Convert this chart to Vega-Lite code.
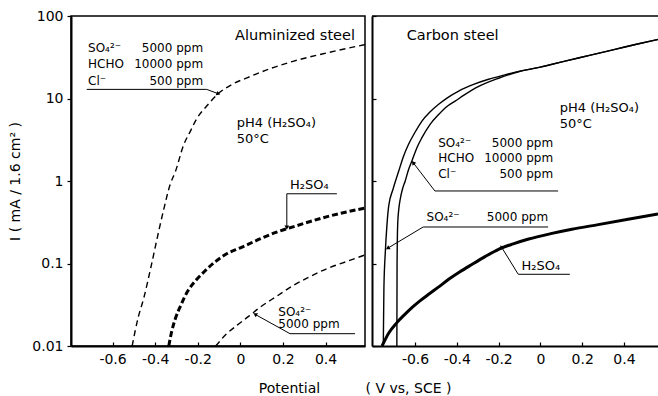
{
  "$schema": "https://vega.github.io/schema/vega-lite/v6.json",
  "padding": {"left": 8, "top": 8, "right": 0, "bottom": 0},
  "spacing": 7,
  "bounds": "flush",
  "datasets": {
    "curves": [
      {"p":"L","s":"A","x":-0.508,"y":0.01},{"p":"L","s":"A","x":-0.48,"y":0.022},{"p":"L","s":"A","x":-0.454,"y":0.0376},{"p":"L","s":"A","x":-0.42,"y":0.09},{"p":"L","s":"A","x":-0.391,"y":0.2},{"p":"L","s":"A","x":-0.36,"y":0.45},{"p":"L","s":"A","x":-0.33,"y":0.9},{"p":"L","s":"A","x":-0.305,"y":1.3},{"p":"L","s":"A","x":-0.266,"y":2.75},{"p":"L","s":"A","x":-0.235,"y":4.0},{"p":"L","s":"A","x":-0.203,"y":5.8},{"p":"L","s":"A","x":-0.16,"y":8.0},{"p":"L","s":"A","x":-0.108,"y":11.2},{"p":"L","s":"A","x":-0.04,"y":14.8},{"p":"L","s":"A","x":0.031,"y":17.8},{"p":"L","s":"A","x":0.14,"y":23},{"p":"L","s":"A","x":0.251,"y":28.4},{"p":"L","s":"A","x":0.408,"y":35.8},{"p":"L","s":"A","x":0.585,"y":45},
      {"p":"L","s":"B","x":-0.336,"y":0.01},{"p":"L","s":"B","x":-0.325,"y":0.014},{"p":"L","s":"B","x":-0.305,"y":0.0215},{"p":"L","s":"B","x":-0.28,"y":0.031},{"p":"L","s":"B","x":-0.249,"y":0.0454},{"p":"L","s":"B","x":-0.21,"y":0.062},{"p":"L","s":"B","x":-0.171,"y":0.079},{"p":"L","s":"B","x":-0.12,"y":0.104},{"p":"L","s":"B","x":-0.062,"y":0.132},{"p":"L","s":"B","x":0.0,"y":0.155},{"p":"L","s":"B","x":0.095,"y":0.2},{"p":"L","s":"B","x":0.17,"y":0.24},{"p":"L","s":"B","x":0.251,"y":0.28},{"p":"L","s":"B","x":0.408,"y":0.37},{"p":"L","s":"B","x":0.585,"y":0.47},
      {"p":"L","s":"C","x":-0.116,"y":0.01},{"p":"L","s":"C","x":-0.065,"y":0.014},{"p":"L","s":"C","x":-0.015,"y":0.0179},{"p":"L","s":"C","x":0.04,"y":0.023},{"p":"L","s":"C","x":0.095,"y":0.0298},{"p":"L","s":"C","x":0.17,"y":0.04},{"p":"L","s":"C","x":0.251,"y":0.0547},{"p":"L","s":"C","x":0.33,"y":0.07},{"p":"L","s":"C","x":0.408,"y":0.087},{"p":"L","s":"C","x":0.5,"y":0.106},{"p":"L","s":"C","x":0.585,"y":0.127},
      {"p":"R","s":"S","x":-0.752,"y":0.01},{"p":"R","s":"S","x":-0.749,"y":0.05},{"p":"R","s":"S","x":-0.742,"y":0.142},{"p":"R","s":"S","x":-0.735,"y":0.28},{"p":"R","s":"S","x":-0.726,"y":0.5},{"p":"R","s":"S","x":-0.705,"y":0.8},{"p":"R","s":"S","x":-0.678,"y":1.32},{"p":"R","s":"S","x":-0.655,"y":2.0},{"p":"R","s":"S","x":-0.631,"y":2.79},{"p":"R","s":"S","x":-0.6,"y":3.9},{"p":"R","s":"S","x":-0.567,"y":5.33},{"p":"R","s":"S","x":-0.53,"y":6.8},{"p":"R","s":"S","x":-0.487,"y":8.5},{"p":"R","s":"S","x":-0.44,"y":10.4},{"p":"R","s":"S","x":-0.391,"y":12.3},{"p":"R","s":"S","x":-0.32,"y":14.8},{"p":"R","s":"S","x":-0.248,"y":17.1},{"p":"R","s":"S","x":-0.17,"y":19.3},{"p":"R","s":"S","x":-0.104,"y":21.3},{"p":"R","s":"S","x":0.0,"y":24},{"p":"R","s":"S","x":0.118,"y":28.4},{"p":"R","s":"S","x":0.24,"y":33.5},{"p":"R","s":"S","x":0.357,"y":39.4},{"p":"R","s":"S","x":0.46,"y":45.5},{"p":"R","s":"S","x":0.563,"y":52},
      {"p":"R","s":"M","x":-0.687,"y":0.01},{"p":"R","s":"M","x":-0.686,"y":0.1},{"p":"R","s":"M","x":-0.683,"y":0.3},{"p":"R","s":"M","x":-0.678,"y":0.45},{"p":"R","s":"M","x":-0.671,"y":0.6},{"p":"R","s":"M","x":-0.66,"y":0.8},{"p":"R","s":"M","x":-0.647,"y":1.0},{"p":"R","s":"M","x":-0.632,"y":1.35},{"p":"R","s":"M","x":-0.615,"y":1.75},{"p":"R","s":"M","x":-0.592,"y":2.5},{"p":"R","s":"M","x":-0.567,"y":3.35},{"p":"R","s":"M","x":-0.527,"y":4.9},{"p":"R","s":"M","x":-0.487,"y":6.4},{"p":"R","s":"M","x":-0.45,"y":7.9},{"p":"R","s":"M","x":-0.408,"y":9.3},{"p":"R","s":"M","x":-0.36,"y":11.2},{"p":"R","s":"M","x":-0.3,"y":13.8},{"p":"R","s":"M","x":-0.2,"y":17.6},{"p":"R","s":"M","x":-0.104,"y":21.1},{"p":"R","s":"M","x":0.0,"y":24},{"p":"R","s":"M","x":0.118,"y":28.4},{"p":"R","s":"M","x":0.24,"y":33.5},{"p":"R","s":"M","x":0.357,"y":39.4},{"p":"R","s":"M","x":0.46,"y":45.5},{"p":"R","s":"M","x":0.563,"y":52},
      {"p":"R","s":"H","x":-0.758,"y":0.01},{"p":"R","s":"H","x":-0.725,"y":0.0145},{"p":"R","s":"H","x":-0.687,"y":0.0192},{"p":"R","s":"H","x":-0.65,"y":0.024},{"p":"R","s":"H","x":-0.615,"y":0.0292},{"p":"R","s":"H","x":-0.575,"y":0.0355},{"p":"R","s":"H","x":-0.535,"y":0.0423},{"p":"R","s":"H","x":-0.49,"y":0.0513},{"p":"R","s":"H","x":-0.439,"y":0.0643},{"p":"R","s":"H","x":-0.385,"y":0.0794},{"p":"R","s":"H","x":-0.328,"y":0.0973},{"p":"R","s":"H","x":-0.265,"y":0.121},{"p":"R","s":"H","x":-0.2,"y":0.1486},{"p":"R","s":"H","x":-0.13,"y":0.173},{"p":"R","s":"H","x":-0.056,"y":0.198},{"p":"R","s":"H","x":0.05,"y":0.23},{"p":"R","s":"H","x":0.151,"y":0.26},{"p":"R","s":"H","x":0.277,"y":0.296},{"p":"R","s":"H","x":0.42,"y":0.343},{"p":"R","s":"H","x":0.563,"y":0.398}
    ],
    "notes": [
      {"p":"L","k":"hR","t":"Aluminized steel","x":0.538,"y":57.3},
      {"p":"L","k":"L","t":"SO₄²⁻","x":-0.715,"y":40.9},
      {"p":"L","k":"R","t":"5000 ppm","x":-0.175,"y":40.9},
      {"p":"L","k":"L","t":"HCHO","x":-0.715,"y":26.4},
      {"p":"L","k":"R","t":"10000 ppm","x":-0.175,"y":26.4},
      {"p":"L","k":"L","t":"Cl⁻","x":-0.715,"y":16.5},
      {"p":"L","k":"R","t":"500 ppm","x":-0.175,"y":16.5},
      {"p":"L","k":"M","t":"pH4 (H₂SO₄)","x":-0.017,"y":5.1},
      {"p":"L","k":"M","t":"50°C","x":-0.017,"y":3.2},
      {"p":"L","k":"M","t":"H₂SO₄","x":0.233,"y":0.895},
      {"p":"L","k":"L","t":"SO₄²⁻","x":0.178,"y":0.026},
      {"p":"L","k":"L","t":"5000 ppm","x":0.178,"y":0.0183},
      {"p":"R","k":"hL","t":"Carbon steel","x":-0.64,"y":57.3},
      {"p":"R","k":"M","t":"pH4 (H₂SO₄)","x":0.093,"y":7.6},
      {"p":"R","k":"M","t":"50°C","x":0.093,"y":4.9},
      {"p":"R","k":"L","t":"SO₄²⁻","x":-0.489,"y":2.91},
      {"p":"R","k":"R","t":"5000 ppm","x":0.061,"y":2.91},
      {"p":"R","k":"L","t":"HCHO","x":-0.489,"y":1.91},
      {"p":"R","k":"R","t":"10000 ppm","x":0.061,"y":1.91},
      {"p":"R","k":"L","t":"Cl⁻","x":-0.489,"y":1.2},
      {"p":"R","k":"R","t":"500 ppm","x":0.061,"y":1.2},
      {"p":"R","k":"L","t":"SO₄²⁻","x":-0.545,"y":0.366},
      {"p":"R","k":"R","t":"5000 ppm","x":0.037,"y":0.366},
      {"p":"R","k":"M","t":"H₂SO₄","x":-0.09,"y":0.093}
    ],
    "leaders": [
      {"p":"L","g":"a","o":1,"x":-0.721,"y":12.9},{"p":"L","g":"a","o":2,"x":-0.158,"y":12.9},{"p":"L","g":"a","o":3,"x":-0.103,"y":11.4},
      {"p":"L","g":"b","o":1,"x":0.453,"y":0.70},{"p":"L","g":"b","o":2,"x":0.218,"y":0.70},{"p":"L","g":"b","o":3,"x":0.218,"y":0.272},
      {"p":"L","g":"c","o":1,"x":0.538,"y":0.0141},{"p":"L","g":"c","o":2,"x":0.233,"y":0.0141},{"p":"L","g":"c","o":3,"x":0.069,"y":0.0242},
      {"p":"R","g":"d","o":1,"x":0.085,"y":0.757},{"p":"R","g":"d","o":2,"x":-0.505,"y":0.757},{"p":"R","g":"d","o":3,"x":-0.609,"y":1.67},
      {"p":"R","g":"e","o":1,"x":0.037,"y":0.277},{"p":"R","g":"e","o":2,"x":-0.561,"y":0.277},{"p":"R","g":"e","o":3,"x":-0.731,"y":0.153},
      {"p":"R","g":"f","o":1,"x":0.141,"y":0.074},{"p":"R","g":"f","o":2,"x":-0.106,"y":0.074},{"p":"R","g":"f","o":3,"x":-0.186,"y":0.158}
    ]
  },
  "hconcat": [
    {
      "width": 294,
      "height": 330,
      "layer": [
        {
          "data": {"name": "curves"},
          "transform": [{"filter": "datum.p == 'L' && datum.s != 'B'"}],
          "mark": {"type": "line", "color": "black", "strokeWidth": 1.4, "strokeDash": [6, 4], "interpolate": "monotone", "clip": true},
          "encoding": {
            "x": {"field": "x", "type": "quantitative", "scale": {"domain": [-0.795, 0.585], "nice": false, "zero": false},
                  "axis": {"values": [-0.6, -0.4, -0.2, 0, 0.2, 0.4], "labelExpr": "replace(format(datum.value, '.1~f'), '\u2212', '-')", "tickSize": -4, "labelPadding": 10, "title": "Potential", "titleX": 218, "titleY": 35, "titleBaseline": "top"}},
            "y": {"field": "y", "type": "quantitative", "scale": {"type": "log", "domain": [0.01, 100], "nice": false},
                  "axis": {"values": [0.01, 0.1, 1, 10, 100], "labelExpr": "datum.value >= 1 ? format(datum.value, 'd') : format(datum.value, '~g')", "tickSize": 4, "labelPadding": 4, "titlePadding": 9, "title": "I  ( mA / 1.6 cm² )"}},
            "detail": {"field": "s"}
          }
        },
        {
          "data": {"name": "curves"},
          "transform": [{"filter": "datum.p == 'L' && datum.s == 'B'"}],
          "mark": {"type": "line", "color": "black", "strokeWidth": 3, "strokeDash": [6, 3], "interpolate": "monotone", "clip": true},
          "encoding": {"x": {"field": "x", "type": "quantitative"}, "y": {"field": "y", "type": "quantitative"}}
        },
        {
          "data": {"name": "leaders"},
          "transform": [{"filter": "datum.p == 'L'"}],
          "mark": {"type": "line", "color": "black", "strokeWidth": 1},
          "encoding": {"x": {"field": "x", "type": "quantitative"}, "y": {"field": "y", "type": "quantitative"}, "detail": {"field": "g"}, "order": {"field": "o"}}
        },
        {
          "data": {"name": "leaders"},
          "transform": [{"filter": "datum.g == 'a' && datum.o == 3"}],
          "mark": {"type": "point", "shape": "triangle-up", "angle": 111, "size": 22, "filled": true, "color": "black", "opacity": 1},
          "encoding": {"x": {"field": "x", "type": "quantitative"}, "y": {"field": "y", "type": "quantitative"}}
        },
        {
          "data": {"name": "leaders"},
          "transform": [{"filter": "datum.g == 'b' && datum.o == 3"}],
          "mark": {"type": "point", "shape": "triangle-up", "angle": 180, "size": 22, "filled": true, "color": "black", "opacity": 1},
          "encoding": {"x": {"field": "x", "type": "quantitative"}, "y": {"field": "y", "type": "quantitative"}}
        },
        {
          "data": {"name": "leaders"},
          "transform": [{"filter": "datum.g == 'c' && datum.o == 3"}],
          "mark": {"type": "point", "shape": "triangle-up", "angle": 299, "size": 22, "filled": true, "color": "black", "opacity": 1},
          "encoding": {"x": {"field": "x", "type": "quantitative"}, "y": {"field": "y", "type": "quantitative"}}
        },
        {
          "data": {"name": "notes"},
          "transform": [{"filter": "datum.p == 'L' && datum.k == 'L'"}],
          "mark": {"type": "text", "align": "left", "baseline": "middle", "fontSize": 12, "color": "black"},
          "encoding": {"x": {"field": "x", "type": "quantitative"}, "y": {"field": "y", "type": "quantitative"}, "text": {"field": "t"}}
        },
        {
          "data": {"name": "notes"},
          "transform": [{"filter": "datum.p == 'L' && datum.k == 'M'"}],
          "mark": {"type": "text", "align": "left", "baseline": "middle", "fontSize": 13, "color": "black"},
          "encoding": {"x": {"field": "x", "type": "quantitative"}, "y": {"field": "y", "type": "quantitative"}, "text": {"field": "t"}}
        },
        {
          "data": {"name": "notes"},
          "transform": [{"filter": "datum.p == 'L' && datum.k == 'R'"}],
          "mark": {"type": "text", "align": "right", "baseline": "middle", "fontSize": 12, "color": "black"},
          "encoding": {"x": {"field": "x", "type": "quantitative"}, "y": {"field": "y", "type": "quantitative"}, "text": {"field": "t"}}
        },
        {
          "data": {"name": "notes"},
          "transform": [{"filter": "datum.p == 'L' && datum.k == 'hR'"}],
          "mark": {"type": "text", "align": "right", "baseline": "middle", "fontSize": 14.5, "color": "black"},
          "encoding": {"x": {"field": "x", "type": "quantitative"}, "y": {"field": "y", "type": "quantitative"}, "text": {"field": "t"}}
        }
      ]
    },
    {
      "width": 286,
      "height": 330,
      "view": {"stroke": null},
      "layer": [
        {
          "data": {"name": "curves"},
          "transform": [{"filter": "datum.p == 'R' && datum.s != 'H'"}],
          "mark": {"type": "line", "color": "black", "strokeWidth": 1.4, "interpolate": "monotone", "clip": true},
          "encoding": {
            "x": {"field": "x", "type": "quantitative", "scale": {"domain": [-0.806, 0.563], "nice": false, "zero": false},
                  "axis": {"values": [-0.6, -0.4, -0.2, 0, 0.2, 0.4], "labelExpr": "replace(format(datum.value, '.1~f'), '\u2212', '-')", "tickSize": -4, "labelPadding": 10, "title": "(  V  vs,  SCE  )", "titleX": 36, "titleY": 35, "titleBaseline": "top"}},
            "y": {"field": "y", "type": "quantitative", "scale": {"type": "log", "domain": [0.01, 100], "nice": false},
                  "axis": {"values": [0.01, 0.1, 1, 10, 100], "labels": false, "tickSize": -4, "title": null}},
            "detail": {"field": "s"}
          }
        },
        {
          "data": {"name": "curves"},
          "transform": [{"filter": "datum.p == 'R' && datum.s == 'H'"}],
          "mark": {"type": "line", "color": "black", "strokeWidth": 3, "interpolate": "monotone", "clip": true},
          "encoding": {"x": {"field": "x", "type": "quantitative"}, "y": {"field": "y", "type": "quantitative"}}
        },
        {
          "data": {"values": [{}]},
          "mark": {"type": "rule", "color": "black", "strokeWidth": 1.5},
          "encoding": {"y": {"datum": 100}}
        },
        {
          "data": {"name": "leaders"},
          "transform": [{"filter": "datum.p == 'R'"}],
          "mark": {"type": "line", "color": "black", "strokeWidth": 1},
          "encoding": {"x": {"field": "x", "type": "quantitative"}, "y": {"field": "y", "type": "quantitative"}, "detail": {"field": "g"}, "order": {"field": "o"}}
        },
        {
          "data": {"name": "leaders"},
          "transform": [{"filter": "datum.g == 'd' && datum.o == 3"}],
          "mark": {"type": "point", "shape": "triangle-up", "angle": 322, "size": 22, "filled": true, "color": "black", "opacity": 1},
          "encoding": {"x": {"field": "x", "type": "quantitative"}, "y": {"field": "y", "type": "quantitative"}}
        },
        {
          "data": {"name": "leaders"},
          "transform": [{"filter": "datum.g == 'e' && datum.o == 3"}],
          "mark": {"type": "point", "shape": "triangle-up", "angle": 239, "size": 22, "filled": true, "color": "black", "opacity": 1},
          "encoding": {"x": {"field": "x", "type": "quantitative"}, "y": {"field": "y", "type": "quantitative"}}
        },
        {
          "data": {"name": "leaders"},
          "transform": [{"filter": "datum.g == 'f' && datum.o == 3"}],
          "mark": {"type": "point", "shape": "triangle-up", "angle": 329, "size": 22, "filled": true, "color": "black", "opacity": 1},
          "encoding": {"x": {"field": "x", "type": "quantitative"}, "y": {"field": "y", "type": "quantitative"}}
        },
        {
          "data": {"name": "notes"},
          "transform": [{"filter": "datum.p == 'R' && datum.k == 'L'"}],
          "mark": {"type": "text", "align": "left", "baseline": "middle", "fontSize": 12, "color": "black"},
          "encoding": {"x": {"field": "x", "type": "quantitative"}, "y": {"field": "y", "type": "quantitative"}, "text": {"field": "t"}}
        },
        {
          "data": {"name": "notes"},
          "transform": [{"filter": "datum.p == 'R' && datum.k == 'M'"}],
          "mark": {"type": "text", "align": "left", "baseline": "middle", "fontSize": 13, "color": "black"},
          "encoding": {"x": {"field": "x", "type": "quantitative"}, "y": {"field": "y", "type": "quantitative"}, "text": {"field": "t"}}
        },
        {
          "data": {"name": "notes"},
          "transform": [{"filter": "datum.p == 'R' && datum.k == 'R'"}],
          "mark": {"type": "text", "align": "right", "baseline": "middle", "fontSize": 12, "color": "black"},
          "encoding": {"x": {"field": "x", "type": "quantitative"}, "y": {"field": "y", "type": "quantitative"}, "text": {"field": "t"}}
        },
        {
          "data": {"name": "notes"},
          "transform": [{"filter": "datum.p == 'R' && datum.k == 'hL'"}],
          "mark": {"type": "text", "align": "left", "baseline": "middle", "fontSize": 14.5, "color": "black"},
          "encoding": {"x": {"field": "x", "type": "quantitative"}, "y": {"field": "y", "type": "quantitative"}, "text": {"field": "t"}}
        }
      ]
    }
  ],
  "config": {
    "font": "DejaVu Sans",
    "view": {"stroke": "black", "strokeWidth": 1.5},
    "axis": {"grid": false, "domainColor": "black", "domainWidth": 2, "tickColor": "black", "tickWidth": 1.2, "labelColor": "black", "labelFontSize": 14, "labelFont": "DejaVu Sans", "titleColor": "black", "titleFontSize": 14, "titleFontWeight": "normal", "titleFont": "DejaVu Sans"}
  }
}
